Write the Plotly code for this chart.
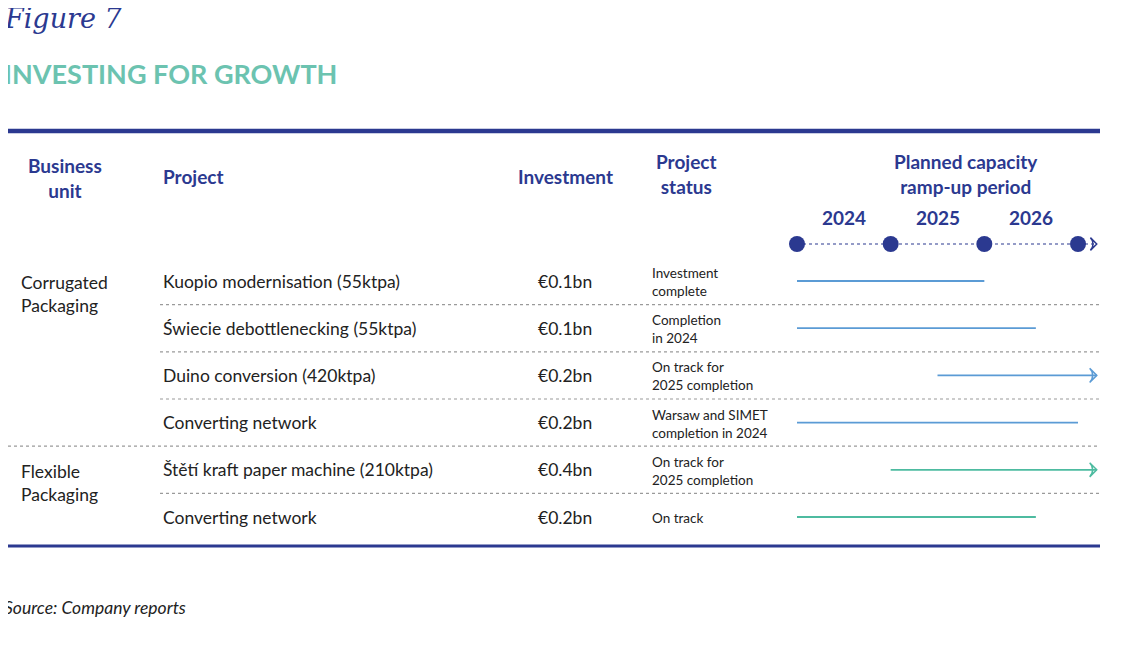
import plotly.graph_objects as go

# ---- data ----
units = ["Corrugated\nPackaging", "Flexible\nPackaging"]
unit_rows = [0, 4]
projects = ["Kuopio modernisation (55ktpa)", "Świecie debottlenecking (55ktpa)",
            "Duino conversion (420ktpa)", "Converting network",
            "Štětí kraft paper machine (210ktpa)", "Converting network"]
investment = ["€0.1bn", "€0.1bn", "€0.2bn", "€0.2bn", "€0.4bn", "€0.2bn"]
status = ["Investment<br>complete", "Completion<br>in 2024", "On track for<br>2025 completion",
          "Warsaw and SIMET<br>completion in 2024", "On track for<br>2025 completion", "On track"]
ramp_start = [2024.0, 2024.0, 2025.5, 2024.0, 2025.0, 2024.0]
ramp_end = [2026.0, 2026.55, 2027.2, 2027.0, 2027.2, 2026.55]
ongoing = [False, False, True, False, True, False]
years = [2024, 2025, 2026]
milestones = [2024, 2025, 2026, 2027]

DARK = "#2b3990"
TEAL = "#6cc3b0"
BLUE_LINE = "#5b9bd5"
TEAL_LINE = "#4dbba0"
GREY = "#9a9a9a"
OFF = 8  # page body margin
W, H = 1121 - OFF, 652 - OFF
FONT = "Lato"

# row index <-> pixel: row i centre at 281 + 47.2*i (reference pixels)
ROW0, STEP = 281, 47.2
def yi(p):
    return (p - ROW0) / STEP
def px(x):
    return (x - OFF) / W

fig = go.Figure()

# timeline header
fig.add_trace(go.Scatter(x=[milestones[0], 2027.17], y=[yi(244)] * 2, mode="lines",
                         line=dict(color=DARK, width=1.2, dash="dot"), hoverinfo="skip"))
fig.add_trace(go.Scatter(x=milestones, y=[yi(244)] * len(milestones), mode="markers",
                         marker=dict(color=DARK, size=16), hoverinfo="skip", cliponaxis=False))
fig.add_trace(go.Scatter(x=[2027.2], y=[yi(244)], mode="markers", cliponaxis=False,
                         marker=dict(symbol="arrow-wide-open", angle=90, color=DARK, size=9,
                                     line=dict(color=DARK, width=1.5)), hoverinfo="skip"))

# ramp-up bars
for i in range(len(projects)):
    col = TEAL_LINE if i >= unit_rows[1] else BLUE_LINE
    fig.add_trace(go.Scatter(x=[ramp_start[i], ramp_end[i]], y=[i, i], mode="lines",
                             line=dict(color=col, width=1.8), hoverinfo="skip"))
    if ongoing[i]:
        fig.add_trace(go.Scatter(x=[ramp_end[i]], y=[i], mode="markers", cliponaxis=False,
                                 marker=dict(symbol="arrow-wide-open", angle=90, color=col, size=10,
                                             line=dict(color=col, width=1.5)), hoverinfo="skip"))

ann = []
def text(x, y, s, size=17.5, color="#222", anchor="left", bold=False, italic=False, family=FONT):
    if bold:
        s = "<b>" + s + "</b>"
    if italic:
        s = "<i>" + s + "</i>"
    ann.append(dict(x=px(x), y=y, xref="paper", yref="y", text=s, showarrow=False,
                    xanchor=anchor, yanchor="middle", align=anchor,
                    font=dict(size=size, color=color, family=family)))

text(2, yi(18), "Figure 7", size=27, color=DARK, italic=True, family="DejaVu Serif")
text(2, yi(73), "INVESTING FOR GROWTH", size=27, color=TEAL, bold=True)
text(65, yi(178), "Business<br>unit", size=19, color=DARK, anchor="center", bold=True)
text(161, yi(176), "Project", size=19, color=DARK, bold=True)
text(565, yi(176), "Investment", size=19, color=DARK, anchor="center", bold=True)
text(686, yi(174), "Project<br>status", size=19, color=DARK, anchor="center", bold=True)
text(966, yi(174), "Planned capacity<br>ramp-up period", size=19, color=DARK, anchor="center", bold=True)
for yr in years:
    ann.append(dict(x=yr + 0.5, y=yi(217), xref="x", yref="y", text="<b>%d</b>" % yr,
                    showarrow=False, font=dict(size=19, color=DARK, family=FONT)))
for u, r in zip(units, unit_rows):
    text(19, r + 0.27, u.replace("\n", "<br>"))
for i in range(len(projects)):
    text(161, i, projects[i])
    text(565, i, investment[i], anchor="center")
    text(650, i + 0.02, status[i], size=13.5)
text(2, yi(607), "Source: Company reports", italic=True)

shapes = []
def hline(x0, x1, p, color, width, dash="solid"):
    shapes.append(dict(type="line", xref="paper", yref="y", x0=px(x0), x1=px(x1), y0=yi(p), y1=yi(p),
                       line=dict(color=color, width=width, dash=dash)))
hline(2, 1100, 131, DARK, 4.5)
hline(2, 1100, 546, DARK, 3)
for i in range(len(projects) - 1):
    if i + 1 in unit_rows:
        hline(2, 1100, ROW0 + STEP * (i + 0.5), GREY, 1.2, "dot")
    else:
        hline(160, 1100, ROW0 + STEP * (i + 0.5), GREY, 1.2, "dot")

fig.update_layout(
    width=W, height=H, margin=dict(l=0, r=0, t=0, b=0),
    paper_bgcolor="white", plot_bgcolor="white", showlegend=False,
    xaxis=dict(domain=[px(797), px(1100)], range=[2024, 2024 + 303 / 93.67], visible=False),
    yaxis=dict(domain=[0, 1], range=[yi(652), yi(OFF)], visible=False),
    annotations=ann, shapes=shapes,
)
fig.write_html("out.html")
